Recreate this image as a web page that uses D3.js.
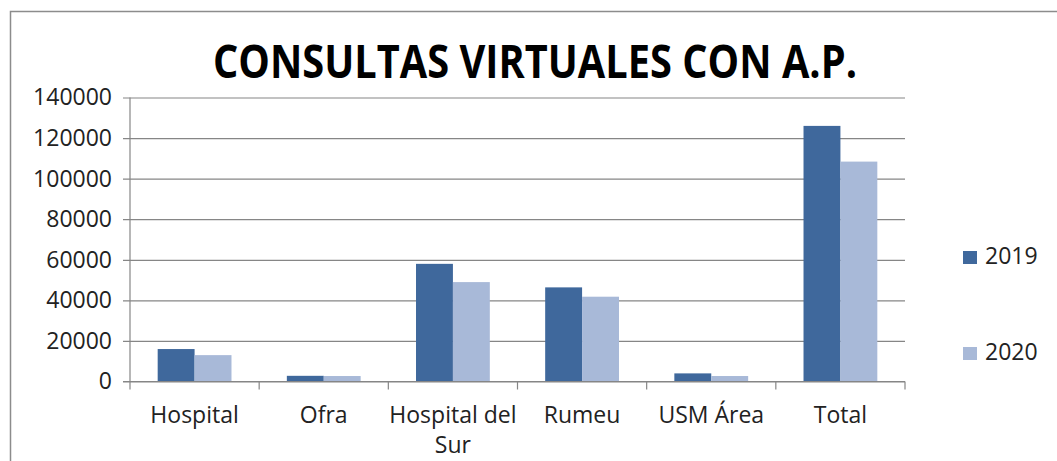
<!DOCTYPE html>
<html>
<head>
<meta charset="utf-8">
<script src="https://cdn.jsdelivr.net/npm/d3@7"></script>
<style>
  body { margin: 0; background: #fff; }
  svg { display: block; font-family: "Open Sans", sans-serif; }
</style>
</head>
<body>
<svg id="chart" width="1057" height="461"></svg>
<script>
// data
const categories = ["Hospital", "Ofra", "Hospital del Sur", "Rumeu", "USM Área", "Total"];
const years = ["2019", "2020"];
const values2019 = [16000, 2800, 58000, 46400, 4000, 126000];
const values2020 = [13000, 2700, 49000, 41800, 2700, 108400];
const yTicks = [0, 20000, 40000, 60000, 80000, 100000, 120000, 140000];
const colors = ["#3f689c", "#a8b9d8"];

const svg = d3.select("#chart");
const plotLeft = 130, plotRight = 905, plotTop = 97.5, plotBottom = 381.5;

// outer frame
svg.append("rect").attr("x", 10.5).attr("y", 11.5).attr("width", 1060).attr("height", 470)
  .attr("fill", "none").attr("stroke", "#8c8c8c").attr("stroke-width", 1.5);

svg.append("text").attr("x", 535).attr("y", 78).attr("text-anchor", "middle")
  .attr("font-size", 46).attr("font-weight", "bold").attr("fill", "#000")
  .attr("textLength", 644).attr("lengthAdjust", "spacingAndGlyphs")
  .text("CONSULTAS VIRTUALES CON A.P.");

const x = d3.scaleBand().domain(categories).range([plotLeft, plotRight]).paddingInner(0).paddingOuter(0);
const y = d3.scaleLinear().domain([0, 140000]).range([plotBottom, plotTop]);
const barW = x.bandwidth() / 3.5;

// gridlines + y labels
const yAxis = d3.axisLeft(y).tickValues(yTicks).tickSize(-(plotRight - plotLeft)).tickFormat(d3.format("d")).tickPadding(18);
const gy = svg.append("g").attr("transform", `translate(${plotLeft},0)`).call(yAxis);
gy.select(".domain").remove();
gy.selectAll(".tick line").attr("x1", -7).attr("stroke", "#868686").attr("stroke-width", 1.2);
gy.selectAll(".tick text").attr("font-size", 23).attr("fill", "#222").attr("font-family", "Open Sans, sans-serif");

// vertical axis line
svg.append("line").attr("x1", plotLeft).attr("x2", plotLeft).attr("y1", plotTop).attr("y2", plotBottom + 8)
  .attr("stroke", "#868686").attr("stroke-width", 1.2);

// category separators
const bounds = categories.map(c => x(c)).concat([plotRight]);
svg.append("g").selectAll("line").data(bounds.slice(1)).enter().append("line")
  .attr("x1", d => d).attr("x2", d => d).attr("y1", plotBottom).attr("y2", plotBottom + 8)
  .attr("stroke", "#868686").attr("stroke-width", 1.2);

// bars
[values2019, values2020].forEach(function(vals, s) {
  svg.append("g").selectAll("rect").data(categories).enter().append("rect")
    .attr("x", (d) => x(d) + x.bandwidth() / 2 - barW + s * barW)
    .attr("y", (d, i) => y(vals[i]))
    .attr("width", barW)
    .attr("height", (d, i) => y(0) - y(vals[i]))
    .attr("fill", colors[s]);
});

// zero line over the bars
svg.append("line").attr("x1", plotLeft - 7).attr("x2", plotRight).attr("y1", plotBottom).attr("y2", plotBottom)
  .attr("stroke", "#868686").attr("stroke-width", 1.2);

// category labels (wrap like the original)
const labelLines = { "Hospital del Sur": ["Hospital del", "Sur"] };
categories.forEach(function(c) {
  const lines = labelLines[c] || [c];
  const t = svg.append("text").attr("text-anchor", "middle").attr("font-size", 23).attr("fill", "#222");
  lines.forEach(function(l, i) {
    t.append("tspan").attr("x", x(c) + x.bandwidth() / 2).attr("y", 423 + i * 30).text(l);
  });
});

// legend
const legY = [264, 360];
years.forEach(function(yr, i) {
  svg.append("rect").attr("x", 963).attr("y", legY[i] - 13).attr("width", 14).attr("height", 13).attr("fill", colors[i]);
  svg.append("text").attr("x", 985).attr("y", legY[i]).attr("font-size", 23).attr("fill", "#222").text(yr);
});
</script>
</body>
</html>
